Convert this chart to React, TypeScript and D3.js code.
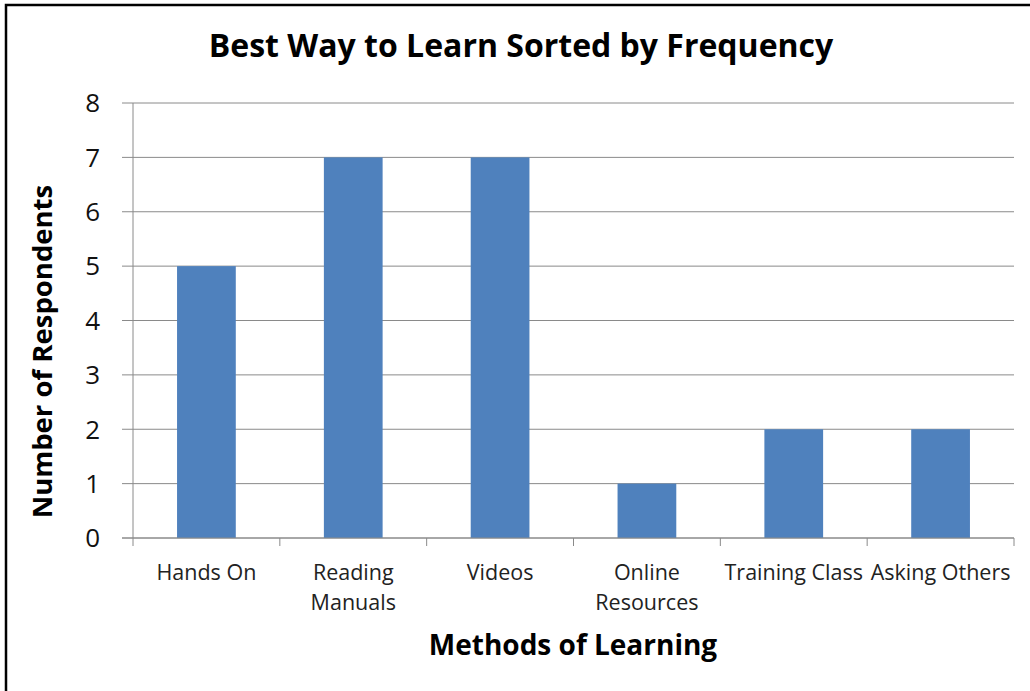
import * as d3 from "d3";
import { useLayoutEffect, useRef } from "react";

const categories = [
  "Hands On",
  "Reading Manuals",
  "Videos",
  "Online Resources",
  "Training Class",
  "Asking Others",
];
const respondents = [5, 7, 7, 1, 2, 2];
const yTicks = [0, 1, 2, 3, 4, 5, 6, 7, 8];

// label lines as they wrap in the original
const labelLines: Record<string, string[]> = {
  "Hands On": ["Hands On"],
  "Reading Manuals": ["Reading", "Manuals"],
  Videos: ["Videos"],
  "Online Resources": ["Online", "Resources"],
  "Training Class": ["Training Class"],
  "Asking Others": ["Asking Others"],
};

const W = 1030;
const H = 691;
const font = "'Open Sans', Lato, sans-serif";

export default function App() {
  const ref = useRef<SVGSVGElement>(null);

  useLayoutEffect(() => {
    const svg = d3.select(ref.current);
    svg.selectAll("*").remove();

    const left = 133;
    const right = 1014;
    const top = 103;
    const bottom = 538;

    const x = d3
      .scaleBand<string>()
      .domain(categories)
      .range([left, right])
      .paddingInner(0.6)
      .paddingOuter(0.3);
    const y = d3.scaleLinear().domain([0, 8]).range([bottom, top]);

    // frame: only top and left edges show in the crop
    svg
      .append("path")
      .attr("d", `M6,${H} V5 H${W}`)
      .attr("fill", "none")
      .attr("stroke", "black")
      .attr("stroke-width", 2.5);

    // gridlines + y ticks
    svg
      .append("g")
      .selectAll("line")
      .data(yTicks)
      .enter()
      .append("line")
      .attr("x1", left - 11)
      .attr("x2", right)
      .attr("y1", (d) => y(d))
      .attr("y2", (d) => y(d))
      .attr("stroke", "#8a8a8a")
      .attr("stroke-width", 1);

    svg
      .append("g")
      .selectAll("text")
      .data(yTicks)
      .enter()
      .append("text")
      .attr("x", 100)
      .attr("y", (d) => y(d))
      .attr("dy", "0.36em")
      .attr("text-anchor", "end")
      .attr("font-family", font)
      .attr("font-size", 26)
      .attr("fill", "#111")
      .text((d) => d);

    // bars
    svg
      .append("g")
      .selectAll("rect")
      .data(respondents)
      .enter()
      .append("rect")
      .attr("x", (_, i) => x(categories[i])!)
      .attr("y", (d) => y(d))
      .attr("width", x.bandwidth())
      .attr("height", (d) => bottom - y(d))
      .attr("fill", "#4f81bd");

    // axes lines
    svg
      .append("line")
      .attr("x1", left)
      .attr("x2", left)
      .attr("y1", top)
      .attr("y2", bottom)
      .attr("stroke", "#8a8a8a");
    svg
      .append("line")
      .attr("x1", left - 11)
      .attr("x2", right)
      .attr("y1", bottom)
      .attr("y2", bottom)
      .attr("stroke", "#8a8a8a");

    const step = x.step();
    const boundaries = d3.range(categories.length + 1).map((i) => left + i * step);
    svg
      .append("g")
      .selectAll("line")
      .data(boundaries)
      .enter()
      .append("line")
      .attr("x1", (d) => d)
      .attr("x2", (d) => d)
      .attr("y1", bottom)
      .attr("y2", bottom + 8)
      .attr("stroke", "#8a8a8a");

    // category labels
    const lbl = svg
      .append("g")
      .selectAll("text")
      .data(categories)
      .enter()
      .append("text")
      .attr("text-anchor", "middle")
      .attr("font-family", font)
      .attr("font-size", 21.5)
      .attr("fill", "#222");
    lbl
      .selectAll("tspan")
      .data((d) => labelLines[d].map((t) => ({ t, c: d })))
      .enter()
      .append("tspan")
      .attr("x", (d) => x(d.c)! + x.bandwidth() / 2)
      .attr("y", (_, i) => 580 + i * 30)
      .text((d) => d.t);

    // titles
    svg
      .append("text")
      .attr("x", 521)
      .attr("y", 57)
      .attr("text-anchor", "middle")
      .attr("font-family", font)
      .attr("font-weight", "bold")
      .attr("font-size", 32)
      .attr("fill", "#000")
      .text("Best Way to Learn Sorted by Frequency");

    svg
      .append("text")
      .attr("x", 573)
      .attr("y", 655)
      .attr("text-anchor", "middle")
      .attr("font-family", font)
      .attr("font-weight", "bold")
      .attr("font-size", 28)
      .attr("fill", "#000")
      .text("Methods of Learning");

    svg
      .append("text")
      .attr("transform", `translate(52,${(top + bottom) / 2 + 31}) rotate(-90)`)
      .attr("text-anchor", "middle")
      .attr("font-family", font)
      .attr("font-weight", "bold")
      .attr("font-size", 27.5)
      .attr("fill", "#000")
      .text("Number of Respondents");
  }, []);

  return (
    <svg
      ref={ref}
      width={W}
      height={H}
      style={{ position: "absolute", left: 0, top: 0, display: "block" }}
    />
  );
}
